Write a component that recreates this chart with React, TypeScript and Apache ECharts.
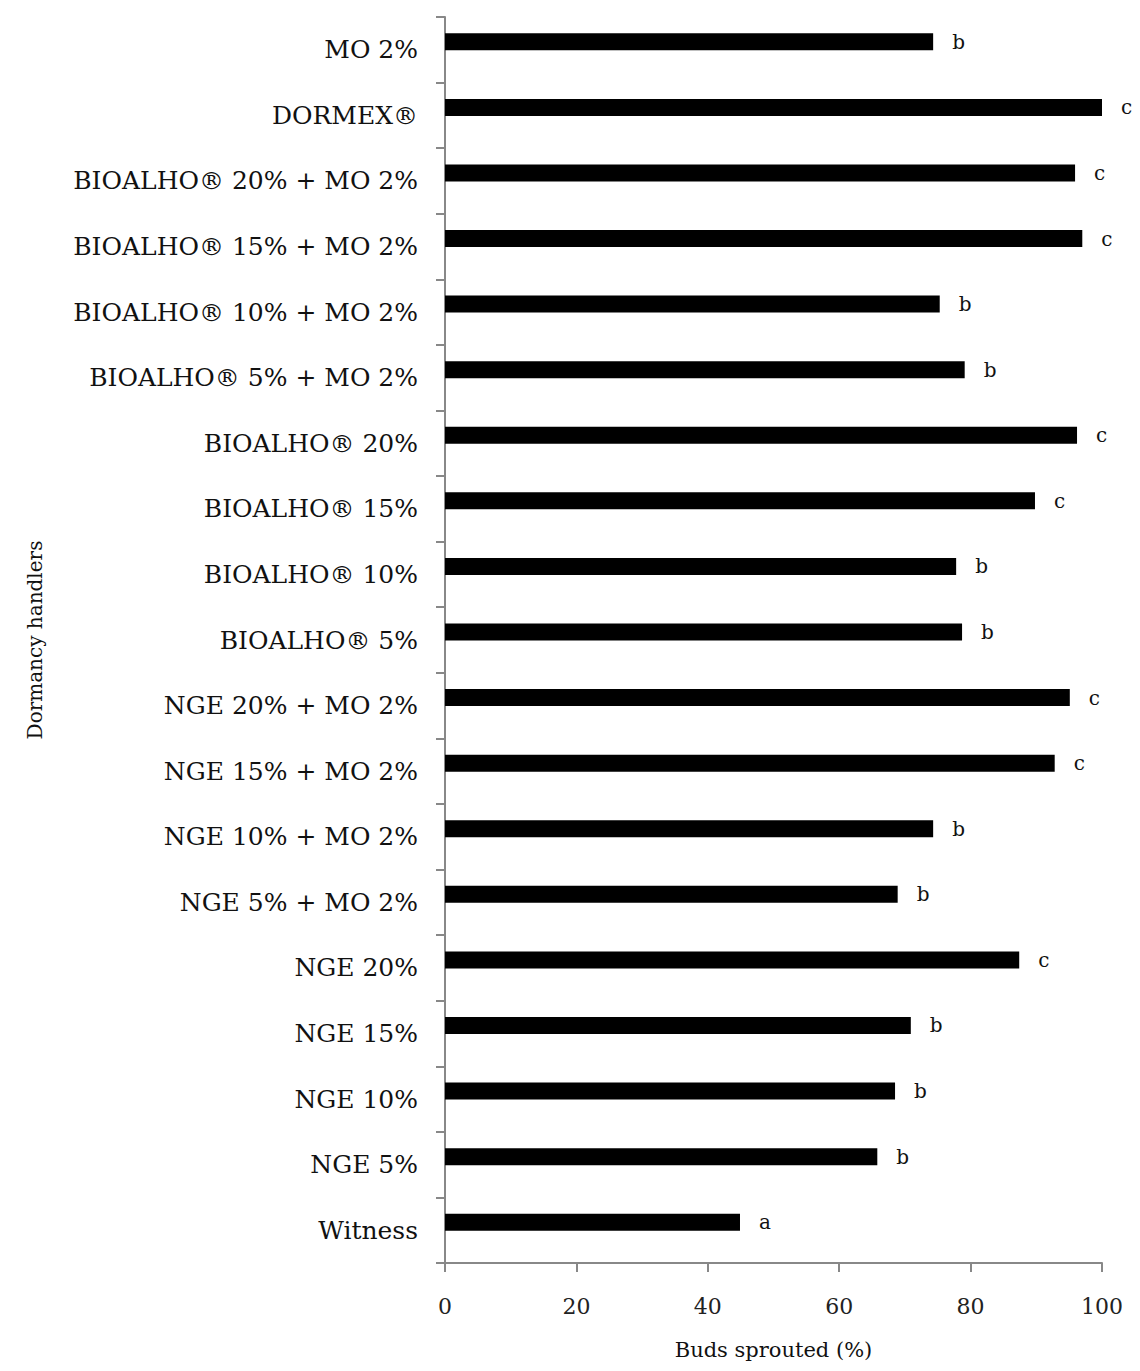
import React, { useEffect, useRef } from "react";
import * as echarts from "echarts";

const categories = [
  "MO 2%",
  "DORMEX®",
  "BIOALHO® 20% + MO 2%",
  "BIOALHO® 15% + MO 2%",
  "BIOALHO® 10% + MO 2%",
  "BIOALHO® 5% + MO 2%",
  "BIOALHO® 20%",
  "BIOALHO® 15%",
  "BIOALHO® 10%",
  "BIOALHO® 5%",
  "NGE 20% + MO 2%",
  "NGE 15% + MO 2%",
  "NGE 10% + MO 2%",
  "NGE 5% + MO 2%",
  "NGE 20%",
  "NGE 15%",
  "NGE 10%",
  "NGE 5%",
  "Witness",
];

const budsSprouted = [
  74.3, 100, 95.9, 97, 75.3, 79.1, 96.2, 89.8, 77.8, 78.7, 95.1, 92.8, 74.3, 68.9,
  87.4, 70.9, 68.5, 65.8, 44.9,
];

const letters = [
  "b", "c", "c", "c", "b", "b", "c", "c", "b", "b", "c", "c", "b", "b", "c", "b", "b", "b", "a",
];

const xTicks = [0, 20, 40, 60, 80, 100];

const FONT = "DejaVu Serif";

export default function App() {
  const ref = useRef<HTMLDivElement>(null);
  useEffect(() => {
    if (!ref.current) return;
    const chart = echarts.init(ref.current, undefined, { renderer: "svg" });
    chart.setOption({
      animation: false,
      backgroundColor: "#ffffff",
      grid: { left: 437, right: 30, top: 9, bottom: 108, containLabel: false },
      xAxis: {
        type: "value",
        min: xTicks[0],
        max: xTicks[xTicks.length - 1],
        interval: 20,
        name: "Buds sprouted (%)",
        nameLocation: "middle",
        nameGap: 76,
        nameTextStyle: { fontFamily: FONT, fontSize: 21, color: "#111" },
        axisLine: { show: true, lineStyle: { color: "#888", width: 2 } },
        axisTick: { show: true, length: 9, lineStyle: { color: "#888", width: 2 } },
        axisLabel: { fontFamily: FONT, fontSize: 22, color: "#222", margin: 32 },
        splitLine: { show: false },
      },
      yAxis: {
        type: "category",
        inverse: true,
        data: categories,
        name: "Dormancy handlers",
        nameLocation: "middle",
        nameGap: 400,
        nameRotate: 90,
        nameTextStyle: { fontFamily: FONT, fontSize: 20, color: "#111" },
        axisLine: { show: true, lineStyle: { color: "#888", width: 2 } },
        axisTick: { show: true, length: 9, lineStyle: { color: "#888", width: 2 } },
        axisLabel: { fontFamily: FONT, fontSize: 25, color: "#111", margin: 27 },
      },
      series: [
        {
          type: "bar",
          data: budsSprouted,
          barWidth: 17,
          barGap: "-6%",
          itemStyle: { color: "#000" },
          label: {
            show: true,
            position: "right",
            distance: 19,
            fontFamily: FONT,
            fontSize: 20,
            color: "#111",
            formatter: (p: any) => letters[p.dataIndex],
          },
        },
        {
          type: "bar",
          data: categories.map(() => null),
          barWidth: 17,
          itemStyle: { color: "transparent" },
        },
      ],
    });
    return () => chart.dispose();
  }, []);
  return <div ref={ref} style={{ width: 1124, height: 1363, marginBottom: -8 }} />;
}
